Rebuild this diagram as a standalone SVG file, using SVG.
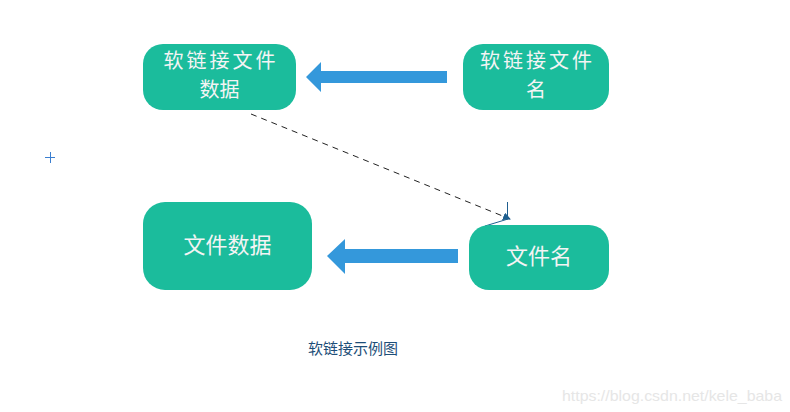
<svg xmlns="http://www.w3.org/2000/svg" width="790" height="412" viewBox="0 0 790 412">
<style>
.node{fill:#1bbc9c}
.lbl{font-family:"Noto Sans CJK SC","Liberation Sans",sans-serif;font-size:22px;fill:#f4f4f4;text-anchor:middle}
.lbl2{font-family:"Noto Sans CJK SC","Liberation Sans",sans-serif;font-size:20px;fill:#f4f4f4;text-anchor:middle}
.big{fill:#3498db}
.cap{font-family:"Noto Sans CJK SC","Liberation Sans",sans-serif;font-size:15px;fill:#1d4e78}
.wm{font-family:"Liberation Sans",sans-serif;font-size:15px;fill:#e6e6e6}
</style>
<defs>
<marker id="ah" markerWidth="8" markerHeight="8" refX="7" refY="4" orient="auto" markerUnits="userSpaceOnUse">
<path d="M0,0 L8,4 L0,8 Z" fill="#1f5f8f"/>
</marker>
</defs>
<rect width="790" height="412" fill="#fff"/>
<g id="connectors">
<polygon class="big" points="306,77 321,62 321,71 447,71 447,83 321,83 321,92"/>
<polygon class="big" points="327,256 345,239 345,249 458,249 458,263 345,263 345,274"/>
<line x1="251" y1="114" x2="510" y2="219" stroke="#222" stroke-width="1" stroke-dasharray="6,5" marker-end="url(#ah)"/>
<line x1="507.5" y1="202" x2="507.5" y2="219" stroke="#1f5f8f" stroke-width="1"/>
<line x1="485" y1="226" x2="508" y2="219" stroke="#1f5f8f" stroke-width="1"/>
</g>
<g id="n1">
<rect class="node" x="143" y="44" width="153" height="66" rx="20"/>
<text class="lbl2" x="219.5" y="68" textLength="112" lengthAdjust="spacing">软链接文件</text>
<text class="lbl2" x="219.5" y="97">数据</text>
</g>
<g id="n2">
<rect class="node" x="463" y="44" width="146" height="66" rx="20"/>
<text class="lbl2" x="536" y="68" textLength="112" lengthAdjust="spacing">软链接文件</text>
<text class="lbl2" x="536" y="97">名</text>
</g>
<g id="n3">
<rect class="node" x="143" y="202" width="169" height="88" rx="22"/>
<text class="lbl" x="227.5" y="253">文件数据</text>
</g>
<g id="n4">
<rect class="node" x="469" y="225" width="140" height="65" rx="20"/>
<text class="lbl" x="539" y="264">文件名</text>
</g>
<g id="cross" stroke="#3b7fd0" stroke-width="1">
<line x1="45" y1="157.5" x2="55" y2="157.5"/>
<line x1="50.5" y1="152" x2="50.5" y2="163"/>
</g>
<text class="cap" x="308" y="354">软链接示例图</text>
<text class="wm" x="562" y="401" textLength="220" lengthAdjust="spacingAndGlyphs">https://blog.csdn.net/kele_baba</text>
</svg>
